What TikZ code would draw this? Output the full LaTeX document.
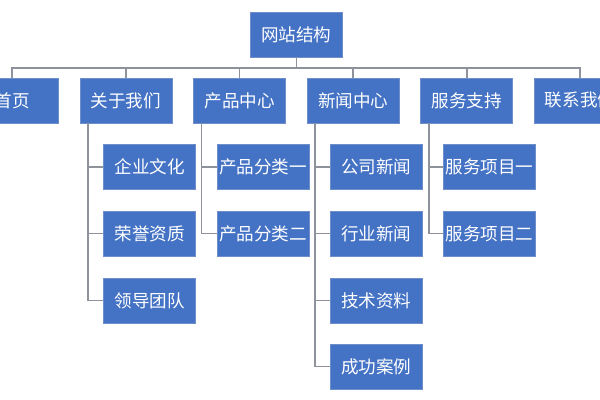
\documentclass[tikz,border=0pt]{standalone}
\usepackage{fontspec}
\setmainfont{Noto Sans CJK SC}
\usetikzlibrary{positioning}
\definecolor{boxblue}{HTML}{4472C4}
\definecolor{boxedge}{HTML}{6F8FCB}
\definecolor{linkgray}{HTML}{8E939B}
\tikzset{
  sitebox/.style={draw=boxedge, line width=.5pt, fill=boxblue, text=white,
    minimum width=2.3cm, minimum height=1.125cm, inner sep=0pt,
    font=\fontsize{12.5}{14}\selectfont},
  link/.style={draw=linkgray, line width=1.1pt}
}
\begin{document}
\begin{tikzpicture}
	\clip (0,0) rectangle (15,-10);
	% root and first level
	\node[sitebox] (root) at (7.41,-0.86) {网站结构};
	\coordinate (bus) at (0,-1.7);
	\node[sitebox] (home) at (0.3,-2.51) {首页};
	\node[sitebox] (about) at (3.15,-2.51) {关于我们};
	\node[sitebox] (product) at (5.99,-2.51) {产品中心};
	\node[sitebox] (news) at (8.83,-2.51) {新闻中心};
	\node[sitebox] (service) at (11.67,-2.51) {服务支持};
	\node[sitebox] (contact) at (14.5,-2.51) {联系我们};
	% second level
	\node[sitebox] (culture) at (3.74,-4.17) {企业文化};
	\node[sitebox] (honor) at (3.74,-5.84) {荣誉资质};
	\node[sitebox] (team) at (3.74,-7.51) {领导团队};
	\node[sitebox] (prodA) at (6.58,-4.17) {产品分类一};
	\node[sitebox] (prodB) at (6.58,-5.84) {产品分类二};
	\node[sitebox] (company) at (9.41,-4.17) {公司新闻};
	\node[sitebox] (industry) at (9.41,-5.84) {行业新闻};
	\node[sitebox] (tech) at (9.41,-7.51) {技术资料};
	\node[sitebox] (cases) at (9.41,-9.16) {成功案例};
	\node[sitebox] (itemA) at (12.24,-4.17) {服务项目一};
	\node[sitebox] (itemB) at (12.24,-5.84) {服务项目二};
	% connectors
	\foreach \n in {home,about,product,news,service,contact}
		\draw[link] (root.south) -- (root.south |- bus) -| (\n.north);
	\foreach \p/\c in {about/culture,about/honor,about/team,product/prodA,product/prodB,
		news/company,news/industry,news/tech,news/cases,service/itemA,service/itemB}
		\draw[link] ([xshift=0.21cm]\p.south west) |- (\c.west);
\end{tikzpicture}
\end{document}
